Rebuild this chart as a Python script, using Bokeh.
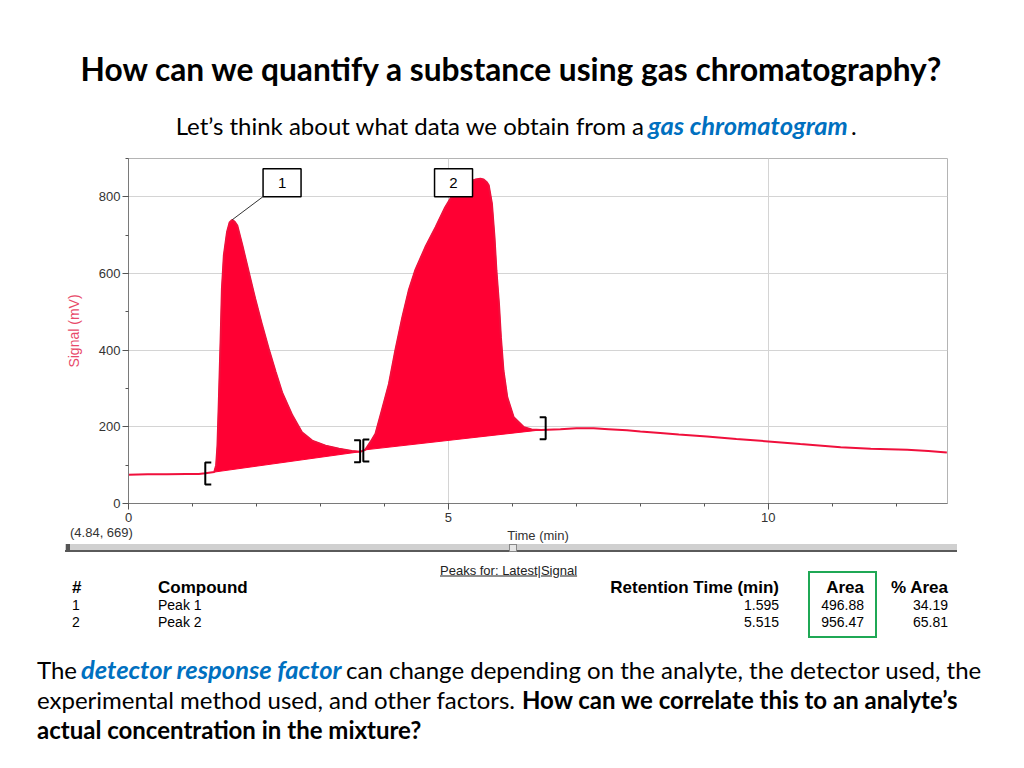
import numpy as np
from bokeh.plotting import figure
from bokeh.layouts import column
from bokeh.models import Range1d, SingleIntervalTicker, Div
from bokeh.core.properties import value
from bokeh.embed import file_html
from bokeh.resources import INLINE

# ---------------- data ----------------
time_min = [0.0, 0.3, 0.6, 0.9, 1.1, 1.2, 1.34,
            1.37, 1.39, 1.41, 1.44, 1.46, 1.49, 1.54, 1.58, 1.62, 1.66, 1.70, 1.78,
            1.88, 1.98, 2.09, 2.19, 2.30, 2.40, 2.56, 2.71, 2.87, 3.08, 3.29, 3.49, 3.62,
            3.70, 3.78, 3.86, 3.96, 4.07, 4.17, 4.28, 4.38, 4.48, 4.64, 4.80, 4.95,
            5.11, 5.22, 5.32, 5.42, 5.50, 5.55, 5.60, 5.63, 5.68, 5.72, 5.75, 5.79,
            5.82, 5.86, 5.92, 6.02, 6.18, 6.30, 6.45,
            6.75, 7.0, 7.27, 7.5, 7.79, 8.0, 8.31, 8.6, 9.04, 9.5, 10.0, 10.5,
            11.13, 11.6, 12.17, 12.5, 12.79]
signal_mv = [75, 76, 76, 77, 77, 79, 82,
             100, 150, 256, 430, 560, 647, 708, 733, 740, 735, 725, 673,
             603, 534, 464, 404, 343, 290, 230, 186, 164, 151, 143, 137, 135,
             140, 160, 182, 243, 312, 399, 486, 556, 608, 669, 721, 773,
             817, 832, 840, 845, 847, 845, 838, 830, 782, 695, 608, 521,
             434, 347, 277, 225, 199, 193, 192,
             194, 196, 196, 194, 191, 188, 184, 180, 175, 168, 162, 155,
             147, 143, 140, 137, 133]

peak_ids = ["1", "2"]
peak_start = [1.34, 3.70]
peak_end = [3.62, 6.45]
peak_apex_t = [1.62, 5.50]
peak_apex_mv = [740, 847]

# integration bracket marks
bracket_t = [1.20, 3.62, 3.67, 6.52]
bracket_mv = [78, 136, 138, 196]
bracket_kind = ["[", "]", "[", "]"]

# annotation label boxes (centre time, centre signal)
label_box_t = [2.40, 5.08]
label_box_mv = [837, 837]

title_text = "How can we quantify a substance using gas chromatography?"
sub_plain = "Let\u2019s think about what data we obtain from a"
sub_emph = "gas chromatogram"
readout = "(4.84, 669)"
peaks_for = "Peaks for: Latest|Signal"

tbl_head = ["#", "Compound", "Retention Time (min)", "Area", "% Area"]
tbl_num = ["1", "2"]
tbl_compound = ["Peak 1", "Peak 2"]
tbl_rt = ["1.595", "5.515"]
tbl_area = ["496.88", "956.47"]
tbl_pct = ["34.19", "65.81"]

RED = "#ff0033"
BLUE = "#0070c0"
SANS = "Liberation Sans"
BODY = "Lato"
W = 1000

# ---------------- helpers for positioned HTML text ----------------
def span(x, y, s, size, font=BODY, weight="normal", style="normal",
         color="#000000", align="left", extra=""):
    tx = {"left": "0", "center": "-50%", "right": "-100%"}[align]
    return (f'<span style="position:absolute;left:{x}px;top:{y}px;'
            f'transform:translate({tx},-50%);white-space:nowrap;'
            f"font-family:'{font}';font-size:{size};font-weight:{weight};"
            f'font-style:{style};color:{color};line-height:1;{extra}">{s}</span>')

def box(x0, y0, x1, y1, css):
    return (f'<div style="position:absolute;left:{x0}px;top:{y0}px;'
            f'width:{x1 - x0}px;height:{y1 - y0}px;box-sizing:border-box;{css}"></div>')

def panel(parts, h):
    html = (f'<div style="position:relative;width:{W}px;height:{h}px;'
            f'overflow:visible;">' + "".join(parts) + "</div>")
    return Div(text=html, width=W, height=h, margin=(0, 0, 0, 0))

# ---------------- header ----------------
hA = 150
head = [
    span(511, 70, title_text, "31.7px", weight="bold", align="center"),
    span(644, 126, sub_plain, "24px", align="right"),
    span(648, 126, sub_emph, "25.5px", weight="bold", style="italic", color=BLUE),
    span(851, 126, ".", "24px"),
]
header_div = panel(head, hA)

# ---------------- chromatogram ----------------
hB = 378
p = figure(width=W, height=hB, x_range=Range1d(0, 12.8), y_range=Range1d(0, 900),
           toolbar_location=None, output_backend="svg", title=None,
           min_border_left=128, min_border_right=W - 128 - 819, min_border_top=8,
           min_border_bottom=hB - 8 - 345)
p.outline_line_color = "#b4b4b4"
p.xaxis.ticker = SingleIntervalTicker(interval=5, num_minor_ticks=5)
p.yaxis.ticker = SingleIntervalTicker(interval=200, num_minor_ticks=2)
p.xgrid.ticker = SingleIntervalTicker(interval=5)
p.ygrid.ticker = SingleIntervalTicker(interval=200)
p.grid.grid_line_color = "#d4d4d4"
for ax in (p.xaxis[0], p.yaxis[0]):
    ax.major_tick_out = 6
    ax.major_tick_in = 0
    ax.minor_tick_out = 3
    ax.minor_tick_in = 0
    ax.major_label_standoff = 2
    ax.axis_line_color = "#7a7a7a"
    ax.major_tick_line_color = "#555555"
    ax.minor_tick_line_color = "#555555"
    ax.major_label_text_font = SANS
    ax.major_label_text_font_size = "13px"
    ax.major_label_text_color = "#333333"
p.xaxis.major_label_standoff = 3
p.yaxis.axis_label = "Signal (mV)"
p.yaxis.axis_label_text_font = SANS
p.yaxis.axis_label_text_font_size = "14px"
p.yaxis.axis_label_text_font_style = "normal"
p.yaxis.axis_label_text_color = "#e84a6a"
p.yaxis.axis_label_standoff = 14

t = np.array(time_min)
s = np.array(signal_mv)
for a, b in zip(peak_start, peak_end):
    m = (t >= a) & (t <= b)
    p.patch(t[m], s[m], fill_color=RED, line_color=RED, line_width=1)
p.line(time_min, signal_mv, line_color="#f0103c", line_width=2)

px_t = 1 / 64.0      # minutes per pixel
px_mv = 1 / 0.3833   # mV per pixel
bx, by = [], []
for bt, bm, k in zip(bracket_t, bracket_mv, bracket_kind):
    tip = 6 * px_t if k == "[" else -6 * px_t
    half = 11 * px_mv
    bx.append([bt + tip, bt, bt, bt + tip])
    by.append([bm + half, bm + half, bm - half, bm - half])
p.multi_line(bx, by, line_color="#000000", line_width=2)

bw, bh = 38 * px_t, 28 * px_mv
p.rect(label_box_t, label_box_mv, width=bw, height=bh, fill_color="#ffffff",
       line_color="#000000", line_width=1.5)
p.text(label_box_t, label_box_mv, text=peak_ids, text_font=value(SANS),
       text_font_size="15px", text_align="center", text_baseline="middle",
       text_color="#000000")
p.segment(x0=[label_box_t[0] - bw / 2], y0=[label_box_mv[0] - bh / 2],
          x1=[peak_apex_t[0]], y1=[peak_apex_mv[0]], line_color="#333333",
          line_width=1)

# ---------------- table & text ----------------
Y0 = hA + hB
hC = 236
def Y(v):
    return v - Y0

foot = [
    span(70, Y(532), readout, "13px", font=SANS, color="#333333"),
    span(538, Y(535), "Time (min)", "13px", font=SANS, color="#333333", align="center"),
    box(65, Y(544), 957, Y(550), "background:#d0d0d0;"),
    box(65, Y(550), 957, Y(552), "background:#5a5a5a;"),
    box(509, Y(544), 517, Y(552), "background:#e6e6e6;border:1px solid #888888;"),
    box(66, Y(544), 70, Y(552), "background:#555555;"),
    span(440, Y(570), peaks_for, "13px", font=SANS, color="#222222",
         extra="text-decoration:underline;"),
    box(808, Y(571), 877, Y(638), "border:2px solid #1fa855;"),
]
hx = [72, 158, 779, 864, 948]
ha = ["left", "left", "right", "right", "right"]
for x, h, a in zip(hx, tbl_head, ha):
    foot.append(span(x, Y(587), h, "17px", font=SANS, weight="bold", align=a))
for i, yy in enumerate([605, 622]):
    foot.append(span(72, Y(yy), tbl_num[i], "14px", font=SANS))
    foot.append(span(158, Y(yy), tbl_compound[i], "14px", font=SANS))
    foot.append(span(779, Y(yy), tbl_rt[i], "14px", font=SANS, align="right"))
    foot.append(span(864, Y(yy), tbl_area[i], "14px", font=SANS, align="right"))
    foot.append(span(948, Y(yy), tbl_pct[i], "14px", font=SANS, align="right"))

FS = "24px"
foot += [
    span(37, Y(670), "The", FS),
    span(81, Y(670), "detector response factor", "25.5px", weight="bold",
         style="italic", color=BLUE),
    span(346, Y(670), "can change depending on the analyte, the detector used, the", FS),
    span(37, Y(700), "experimental method used, and other factors.", FS),
    span(522, Y(700), "How can we correlate this to an analyte\u2019s", FS, weight="bold"),
    span(37, Y(730), "actual concentration in the mixture?", FS, weight="bold"),
]
footer_div = panel(foot, hC)

page = column(header_div, p, footer_div, spacing=0)
open("out.html", "w").write(file_html(page, INLINE))
